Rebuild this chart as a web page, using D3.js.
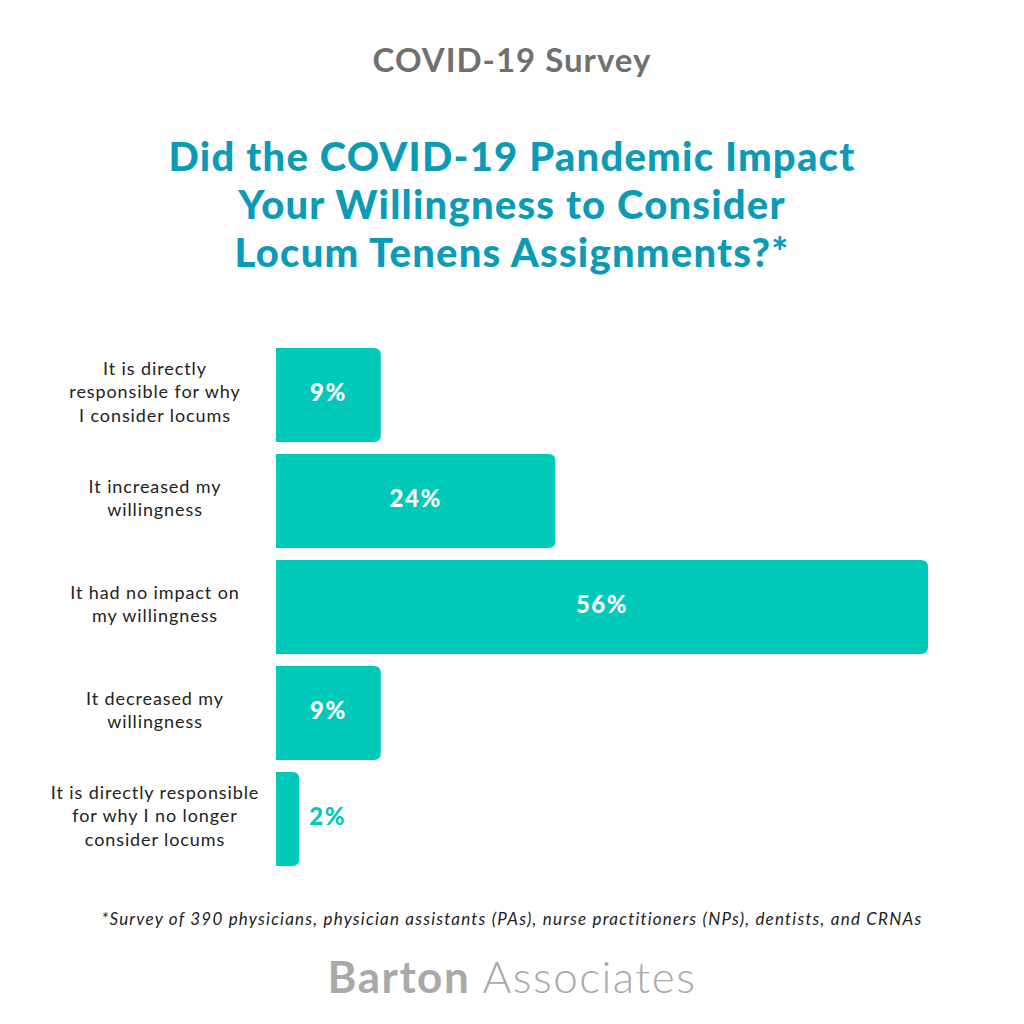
<!DOCTYPE html>
<html>
<head>
<meta charset="utf-8">
<script src="https://cdn.jsdelivr.net/npm/d3@7"></script>
<style>
  body { margin: 0; background: #fff; }
  svg text { font-family: Lato, "Open Sans", sans-serif; }
</style>
</head>
<body>
<div id="chart-area"></div>
<script>
// data
var categories = [
  "It is directly|responsible for why|I consider locums",
  "It increased my|willingness",
  "It had no impact on|my willingness",
  "It decreased my|willingness",
  "It is directly responsible|for why I no longer|consider locums"
];
var values = [9, 24, 56, 9, 2];
var valueLabels = ["9%", "24%", "56%", "9%", "2%"];

var width = 1024, height = 1024;
var teal = "#00c9b9", titleBlue = "#0c9bb6";

var svg = d3.select("#chart-area").append("svg")
    .attr("width", width)
    .attr("height", height);

svg.append("rect").attr("width", width).attr("height", height).attr("fill", "#fff");

svg.append("text")
    .attr("x", 512).attr("y", 72)
    .attr("text-anchor", "middle")
    .attr("font-size", "33px")
    .attr("font-weight", "bold")
    .attr("letter-spacing", "1px")
    .attr("fill", "#707070")
    .text("COVID-19 Survey");

var titleLines = ["Did the COVID-19 Pandemic Impact", "Your Willingness to Consider", "Locum Tenens Assignments?*"];
svg.selectAll(".title")
    .data(titleLines)
    .enter().append("text")
    .attr("class", "title")
    .attr("x", 512)
    .attr("y", (d, i) => 171 + i * 48)
    .attr("text-anchor", "middle")
    .attr("font-size", "40px")
    .attr("font-weight", "900")
    .attr("letter-spacing", "1.2px")
    .attr("fill", titleBlue)
    .text(d => d);

var x = d3.scaleLinear().domain([0, 56]).range([276, 928]);
var y = d3.scaleBand()
    .domain(categories)
    .range([342, 872])
    .paddingInner(0.113)
    .paddingOuter(0.0565);

function barPath(x0, y0, x1, h, r) {
  r = Math.min(r, (x1 - x0));
  return "M" + x0 + "," + y0 +
    "H" + (x1 - r) +
    "Q" + x1 + "," + y0 + " " + x1 + "," + (y0 + r) +
    "V" + (y0 + h - r) +
    "Q" + x1 + "," + (y0 + h) + " " + (x1 - r) + "," + (y0 + h) +
    "H" + x0 + "Z";
}

var g = svg.append("g");

g.selectAll(".bar")
    .data(values)
    .enter().append("path")
    .attr("class", "bar")
    .attr("fill", teal)
    .attr("d", (d, i) => barPath(x(0), y(categories[i]), x(d), y.bandwidth(), 7));

g.selectAll(".val")
    .data(values)
    .enter().append("text")
    .attr("class", "val")
    .attr("x", (d, i) => d >= 5 ? (x(0) + x(d)) / 2 : x(d) + 10)
    .attr("y", (d, i) => y(categories[i]) + y.bandwidth() / 2 - 3)
    .attr("dy", "0.36em")
    .attr("text-anchor", d => d >= 5 ? "middle" : "start")
    .attr("font-size", "24px")
    .attr("font-weight", "900")
    .attr("letter-spacing", "1.5px")
    .attr("fill", d => d >= 5 ? "#fff" : teal)
    .text((d, i) => valueLabels[i]);

var labels = g.selectAll(".cat")
    .data(categories)
    .enter().append("text")
    .attr("class", "cat")
    .attr("text-anchor", "middle")
    .attr("font-size", "18px")
    .attr("letter-spacing", "0.9px")
    .attr("fill", "#222");

labels.each(function(d) {
  var lines = d.split("|");
  var cy = y(d) + y.bandwidth() / 2 - 3;
  var lh = 23.5;
  var t = d3.select(this);
  lines.forEach(function(l, j) {
    t.append("tspan")
      .attr("x", 155)
      .attr("y", cy + (j - (lines.length - 1) / 2) * lh)
      .attr("dy", "0.35em")
      .text(l);
  });
});

svg.append("text")
    .attr("x", 512).attr("y", 925)
    .attr("text-anchor", "middle")
    .attr("font-size", "17px")
    .attr("font-style", "italic")
    .attr("letter-spacing", "1.2px")
    .attr("fill", "#222")
    .text("*Survey of 390 physicians, physician assistants (PAs), nurse practitioners (NPs), dentists, and CRNAs");

var logo = svg.append("text")
    .attr("x", 512).attr("y", 993)
    .attr("text-anchor", "middle")
    .attr("font-size", "44px")
    .attr("letter-spacing", "1.5px")
    .attr("fill", "#a9a9a9");
logo.append("tspan").attr("font-weight", "bold").text("Barton ");
logo.append("tspan").attr("font-weight", "300").text("Associates");
</script>
</body>
</html>
